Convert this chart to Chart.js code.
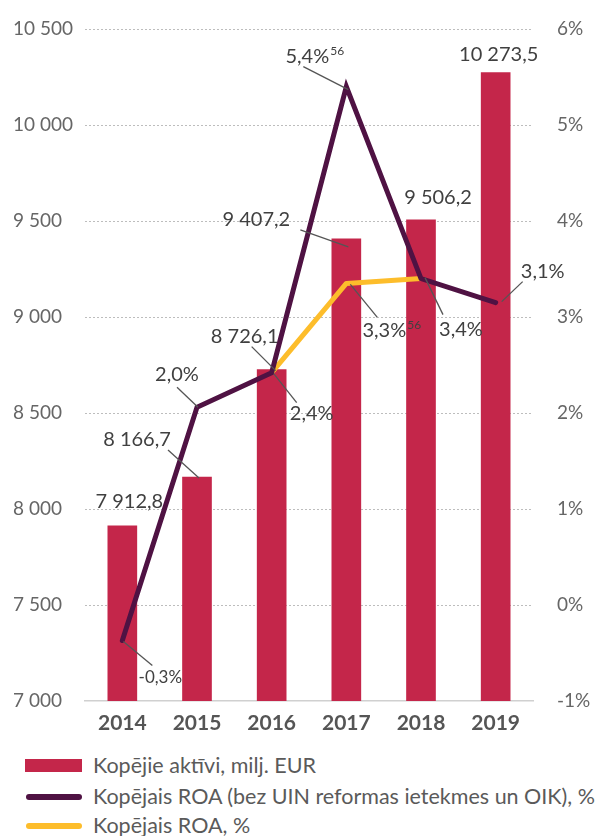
<!DOCTYPE html>
<html><head><meta charset="utf-8">
<script src="https://cdn.jsdelivr.net/npm/chart.js@4/dist/chart.umd.min.js"></script>
<style>
html,body{margin:0;padding:0;background:#fff;}
#wrap{position:relative;width:598px;height:836px;overflow:hidden;background:#fff;}
#c{position:absolute;left:0;top:0;}
.lg{position:absolute;left:0;font-family:Lato,"Open Sans",sans-serif;font-size:21.5px;color:#5a5a5a;white-space:nowrap;}
.sw{position:absolute;}
.tx{position:absolute;left:93px;top:-2px;line-height:24px;}
</style></head>
<body><div id="wrap"><canvas id="c" width="598" height="745"></canvas><div id="legend"></div></div>
<script>
// ---- data ----
const years = ['2014','2015','2016','2017','2018','2019'];
const assets = [7912.8, 8166.7, 8726.1, 9407.2, 9506.2, 10273.5];
const roaAdjusted = [-0.37, 2.06, 2.42, 5.4, 3.4, 3.15];
const roaTotal = [null, null, 2.42, 3.35, 3.4, null];
const assetLabels = ['7 912,8','8 166,7','8 726,1','9 407,2','9 506,2','10 273,5'];
const roaAdjustedLabels = ['-0,3%','2,0%','2,4%','5,4%',null,'3,1%'];
const roaTotalLabels = [null,null,null,'3,3%','3,4%',null];
const seriesNames = ['Kopējie aktīvi, milj. EUR','Kopējais ROA (bez UIN reformas ietekmes un OIK), %','Kopējais ROA, %'];
const leftTicks = [7000,7500,8000,8500,9000,9500,10000,10500];
const rightTicks = [-1,0,1,2,3,4,5,6];

const RED='#C4264A', PURPLE='#4F1243', YELLOW='#FDBD2B';
const FONT='Lato, "Open Sans", sans-serif';

// label placement (offsets relative to the mark, leader line ends)
const layout = [
  {ds:0,i:0,dx:7,dy:-24},
  {ds:0,i:1,dx:-60,dy:-37,l:[-29,-27,2,1]},
  {ds:0,i:2,dx:-27,dy:-33,l:[-20,-23,4,1]},
  {ds:0,i:3,dx:-90,dy:-19,l:[-46,-9,2,8]},
  {ds:0,i:4,dx:17,dy:-22},
  {ds:0,i:5,dx:3,dy:-18},
  {ds:1,i:0,dx:38,dy:37,l:[1,1,30,25],size:17},
  {ds:1,i:1,dx:-20,dy:-33,l:[-20,-20,1,0]},
  {ds:1,i:2,dx:40,dy:41,l:[2,1,25,30]},
  {ds:1,i:3,dx:-39,dy:-30,l:[-43,-20,2,3],sup:'56'},
  {ds:1,i:5,dx:47,dy:-31,l:[6,-1,27,-21]},
  {ds:2,i:3,dx:38,dy:47,l:[4,1,31,34],sup:'56'},
  {ds:2,i:4,dx:40,dy:51,l:[4,-1,22,36]},
];
const labelSets=[assetLabels,roaAdjustedLabels,roaTotalLabels];

const labelPlugin={
  id:'lbl',
  afterDatasetsDraw(chart){
    const ctx=chart.ctx;
    ctx.save();
    layout.forEach(s=>{
      const txt=labelSets[s.ds][s.i]; if(!txt) return;
      const el=chart.getDatasetMeta(s.ds).data[s.i]; if(!el) return;
      const x=el.x,y=el.y;
      if(s.l){
        ctx.strokeStyle='#555';ctx.lineWidth=1.3;
        ctx.beginPath();ctx.moveTo(x+s.l[0],y+s.l[1]);ctx.lineTo(x+s.l[2],y+s.l[3]);ctx.stroke();
      }
      const sz=s.size||20;
      ctx.font=sz+'px '+FONT;ctx.fillStyle='#404040';ctx.textBaseline='middle';ctx.textAlign='center';
      ctx.fillText(txt,x+s.dx,y+s.dy);
      if(s.sup){
        const w=ctx.measureText(txt).width;
        ctx.font='12px '+FONT;ctx.textAlign='left';
        ctx.fillText(s.sup,x+s.dx+w/2+1,y+s.dy-5);
      }
    });
    ctx.restore();
  }
};

// dotted horizontal grid lines drawn at the left-axis ticks
const gridPlugin={
  id:'dotgrid',
  beforeDatasetsDraw(chart){
    const ctx=chart.ctx, y=chart.scales.y, a=chart.chartArea;
    ctx.save();ctx.strokeStyle='#bdbdbd';ctx.lineWidth=1;ctx.setLineDash([2,2]);
    leftTicks.forEach(v=>{ if(v===7000) return;
      const py=Math.round(y.getPixelForValue(v))+0.5;
      ctx.beginPath();ctx.moveTo(a.left,py);ctx.lineTo(a.right,py);ctx.stroke();});
    ctx.restore();
  }
};

const fmt=v=>String(v).replace(/\B(?=(\d{3})+(?!\d))/g,' ');

new Chart(document.getElementById('c'),{
  data:{labels:years,datasets:[
    {type:'bar',label:seriesNames[0],data:assets,backgroundColor:RED,barThickness:29,yAxisID:'y',order:2},
    {type:'line',label:seriesNames[1],data:roaAdjusted,borderColor:PURPLE,backgroundColor:PURPLE,borderWidth:5,pointRadius:0,borderJoinStyle:'miter',borderCapStyle:'round',yAxisID:'y2',order:0,tension:0},
    {type:'line',label:seriesNames[2],data:roaTotal,borderColor:YELLOW,backgroundColor:YELLOW,borderWidth:5,pointRadius:0,borderJoinStyle:'round',yAxisID:'y2',order:1,tension:0,spanGaps:false},
  ]},
  options:{
    responsive:false,animation:false,
    layout:{padding:{left:13,top:29,right:0,bottom:0}},
    plugins:{legend:{display:false},tooltip:{enabled:false}},
    scales:{
      x:{grid:{display:false,drawTicks:false},border:{display:true,color:'#d0d0d0',width:1.5},
        ticks:{font:{family:FONT,size:21,weight:'bold'},color:'#555',padding:10},
        afterFit(s){s.height=44;s.paddingLeft=0;s.paddingRight=0;}},
      y:{position:'left',min:7000,max:10500,
        afterBuildTicks(s){s.ticks=leftTicks.map(v=>({value:v}));},
        grid:{display:false,drawTicks:false},
        border:{display:false},
        ticks:{font:{family:FONT,size:19},color:'#666',crossAlign:'far',callback:v=>fmt(v)},
        afterFit(s){s.width=72;s.paddingTop=0;s.paddingBottom=0;}},
      y2:{position:'right',min:-1,max:6,
        afterBuildTicks(s){s.ticks=rightTicks.map(v=>({value:v}));},
        grid:{display:false,drawTicks:false},border:{display:false},
        ticks:{font:{family:FONT,size:19},color:'#666',padding:24,callback:v=>v+'%'},
        afterFit(s){s.width=65;s.paddingTop=0;s.paddingBottom=0;}}
    }
  },
  plugins:[gridPlugin,labelPlugin]
});

// legend (HTML)
const lg=document.getElementById('legend');
const rows=[{y:766,kind:'box',color:RED},{y:797,kind:'line',color:PURPLE},{y:826,kind:'line',color:YELLOW}];
rows.forEach((r,k)=>{
  const d=document.createElement('div');d.className='lg';d.style.top=(r.y-11)+'px';d.style.width='598px';d.style.height='22px';
  const sw=document.createElement('div');sw.className='sw';
  if(r.kind==='box'){sw.style.cssText=`left:25px;top:4px;width:57px;height:13px;background:${r.color};`;}
  else{sw.style.cssText=`left:26px;top:8px;width:56px;height:6px;border-radius:3px;background:${r.color};`;}
  const t=document.createElement('div');t.className='tx';t.textContent=seriesNames[k];
  d.appendChild(sw);d.appendChild(t);lg.appendChild(d);
});
</script></body></html>
